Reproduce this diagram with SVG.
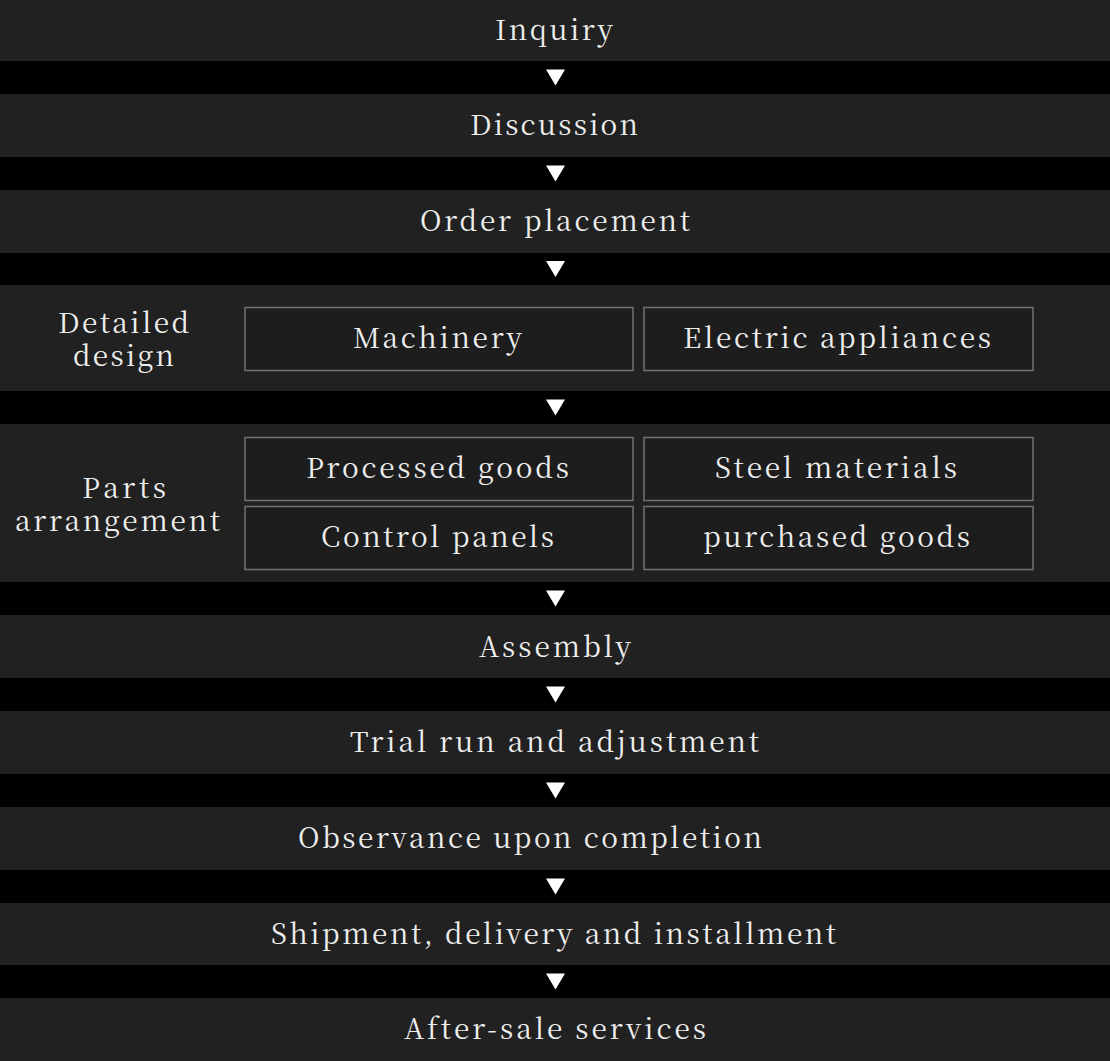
<svg xmlns="http://www.w3.org/2000/svg" width="1110" height="1061" viewBox="0 0 1110 1061">
<style>
.band{fill:#212121}
.box{fill:#1d1d1d;stroke:#737373;stroke-width:1.5}
text{font-family:'Noto Serif CJK JP','Noto Serif','DejaVu Serif','Liberation Serif','Times New Roman',Times,serif;font-size:28px;font-weight:400;fill:#eeeeee}
.arr{fill:#ffffff}
</style>
<rect x="0" y="0" width="1110" height="1061" fill="#000000"/>
<g id="inquiry"><rect class="band" x="0" y="0" width="1110" height="61"/><text x="495" y="39.5" textLength="118" lengthAdjust="spacing">Inquiry</text></g>
<g id="discussion"><rect class="band" x="0" y="94" width="1110" height="63"/><text x="470" y="135" textLength="168" lengthAdjust="spacing">Discussion</text></g>
<g id="order"><rect class="band" x="0" y="190" width="1110" height="63"/><text x="420" y="231" textLength="270" lengthAdjust="spacing">Order placement</text></g>
<g id="detailed-design"><rect class="band" x="0" y="285" width="1110" height="106"/>
<text><tspan x="58" y="333" textLength="131" lengthAdjust="spacing">Detailed</tspan><tspan x="73" y="366" textLength="101" lengthAdjust="spacing">design</tspan></text>
<g id="machinery"><rect class="box" x="245" y="307.5" width="388" height="63"/><text x="353" y="348" textLength="169" lengthAdjust="spacing">Machinery</text></g>
<g id="electric"><rect class="box" x="644" y="307.5" width="389" height="63"/><text x="683" y="348" textLength="308" lengthAdjust="spacing">Electric appliances</text></g>
</g>
<g id="parts-arrangement"><rect class="band" x="0" y="424" width="1110" height="158"/>
<text><tspan x="82" y="498" textLength="84" lengthAdjust="spacing">Parts</tspan><tspan x="15" y="531" textLength="205" lengthAdjust="spacing">arrangement</tspan></text>
<g id="processed"><rect class="box" x="245" y="437.5" width="388" height="63"/><text x="306" y="477.5" textLength="263" lengthAdjust="spacing">Processed goods</text></g>
<g id="steel"><rect class="box" x="644" y="437.5" width="389" height="63"/><text x="715" y="477.5" textLength="242" lengthAdjust="spacing">Steel materials</text></g>
<g id="control"><rect class="box" x="245" y="506.5" width="388" height="63"/><text x="321" y="546.5" textLength="233" lengthAdjust="spacing">Control panels</text></g>
<g id="purchased"><rect class="box" x="644" y="506.5" width="389" height="63"/><text x="703" y="546.5" textLength="267" lengthAdjust="spacing">purchased goods</text></g>
</g>
<g id="assembly"><rect class="band" x="0" y="615" width="1110" height="63"/><text x="479" y="656.5" textLength="152" lengthAdjust="spacing">Assembly</text></g>
<g id="trial"><rect class="band" x="0" y="711" width="1110" height="63"/><text x="350" y="752" textLength="409" lengthAdjust="spacing">Trial run and adjustment</text></g>
<g id="observance"><rect class="band" x="0" y="807" width="1110" height="63"/><text x="298" y="847.5" textLength="464" lengthAdjust="spacing">Observance upon completion</text></g>
<g id="shipment"><rect class="band" x="0" y="903" width="1110" height="62"/><text x="271" y="943.5" textLength="565" lengthAdjust="spacing">Shipment, delivery and installment</text></g>
<g id="after-sale"><rect class="band" x="0" y="998" width="1110" height="63"/><text x="404" y="1039" textLength="302" lengthAdjust="spacing">After-sale services</text></g>
<g id="connectors" class="arr">
<polygon points="546,69.5 565,69.5 555.5,85.5"/>
<polygon points="546,165.5 565,165.5 555.5,181.5"/>
<polygon points="546,261 565,261 555.5,277"/>
<polygon points="546,399.5 565,399.5 555.5,415.5"/>
<polygon points="546,590.5 565,590.5 555.5,606.5"/>
<polygon points="546,686.5 565,686.5 555.5,702.5"/>
<polygon points="546,782.5 565,782.5 555.5,798.5"/>
<polygon points="546,878.5 565,878.5 555.5,894.5"/>
<polygon points="546,973.5 565,973.5 555.5,989.5"/>
</g>
</svg>
